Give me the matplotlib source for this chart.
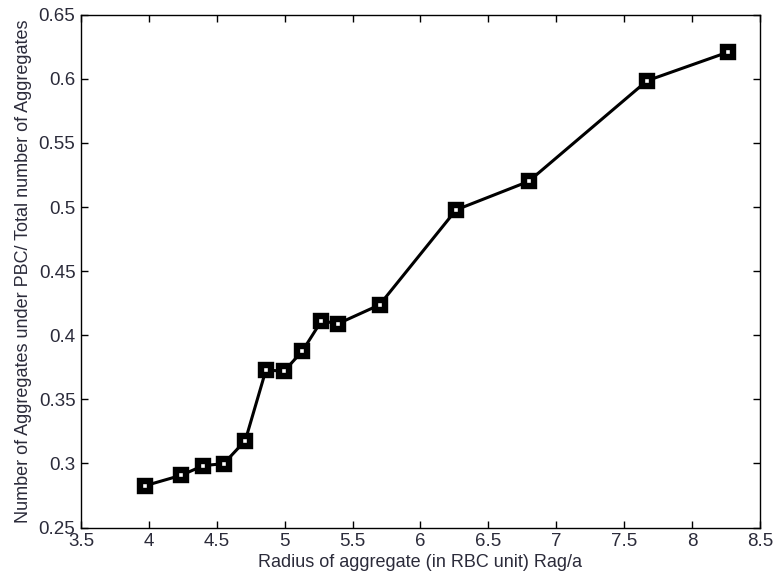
import matplotlib
matplotlib.use("Agg")
import matplotlib.pyplot as plt

radius = [3.968, 4.237, 4.401, 4.551, 4.710, 4.862, 4.996, 5.131, 5.271, 5.393,
          5.699, 6.263, 6.797, 7.669, 8.262]
fraction = [0.2825, 0.2907, 0.2983, 0.2998, 0.3178, 0.3728, 0.3720, 0.3877, 0.4112,
            0.4090, 0.4237, 0.4978, 0.5200, 0.5985, 0.6207]

xticks = [3.5, 4, 4.5, 5, 5.5, 6, 6.5, 7, 7.5, 8, 8.5]
yticks = [0.25, 0.3, 0.35, 0.4, 0.45, 0.5, 0.55, 0.6, 0.65]
xlabels = ["3.5", "4", "4.5", "5", "5.5", "6", "6.5", "7", "7.5", "8", "8.5"]
ylabels = ["0.25", "0.3", "0.35", "0.4", "0.45", "0.5", "0.55", "0.6", "0.65"]

plt.rcParams['font.family'] = ['Liberation Sans', 'DejaVu Sans']
txt = '#2b2b3a'

fig = plt.figure(figsize=(7.77, 5.79), dpi=100)
ax = fig.add_axes([0.1042, 0.0889, 0.978 - 0.1042, 0.9746 - 0.0889])
ax.plot(radius, fraction, color='black', linewidth=2.2, marker='s', markersize=7.5,
        markerfacecolor='white', markeredgecolor='black', markeredgewidth=4.6)
ax.set_xlim(3.5, 8.5)
ax.set_ylim(0.25, 0.65)
ax.set_xticks(xticks)
ax.set_xticklabels(xlabels)
ax.set_yticks(yticks)
ax.set_yticklabels(ylabels)
ax.tick_params(direction='in', length=5, width=1, top=True, right=True,
               labelsize=13.5, labelcolor=txt)
ax.tick_params(axis='x', pad=4)
ax.tick_params(axis='y', pad=4)
for s in ax.spines.values():
    s.set_linewidth(1.0)
ax.set_xlabel('Radius of aggregate (in RBC unit) Rag/a', fontsize=13, color=txt, labelpad=3)
ax.set_ylabel('Number of Aggregates under PBC/ Total number of Aggregates', fontsize=13,
              color=txt, labelpad=5)
fig.savefig('out.png', dpi=100)
